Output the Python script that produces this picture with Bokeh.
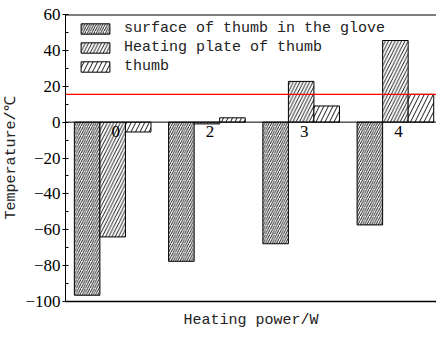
from bokeh.plotting import figure
from bokeh.models import Range1d, FixedTicker, Span, Legend, LegendItem
from bokeh.embed import file_html
from bokeh.resources import INLINE
from bokeh.core.properties import value

# ---- data ----
powers = ["0", "2", "3", "4"]
surface_glove = [-96.5, -77.6, -67.8, -57.3]
heating_plate = [-64.0, -1.0, 22.7, 45.5]
thumb = [-5.5, 2.4, 9.0, 15.5]
reference_line = 15.5
y_ticks = [-100, -80, -60, -40, -20, 0, 20, 40, 60]
y_minor = [-90, -70, -50, -30, -10, 10, 30, 50]
series_names = ["surface of thumb in the glove", "Heating plate of thumb", "thumb"]

idx = list(range(len(powers)))
bw = 0.271

p = figure(width=436, height=331, output_backend="svg", toolbar_location=None,
           x_range=Range1d(-0.5005, 3.436), y_range=Range1d(y_ticks[0], y_ticks[-1]),
           min_border_left=53, min_border_right=0, min_border_top=14, min_border_bottom=27)
p.outline_line_color = None
p.xgrid.visible = False
p.ygrid.visible = False

serif = "'Liberation Serif', 'Times New Roman', serif"
mono = "'Liberation Mono', monospace"

# bottom axis (line only + title)
xa = p.xaxis[0]
xa.ticker = FixedTicker(ticks=[])
xa.major_label_text_font_size = "0px"
xa.major_tick_line_color = None
xa.minor_tick_line_color = None
xa.axis_line_width = 1.5
xa.axis_label = "Heating power/W"
xa.axis_label_text_font = mono
xa.axis_label_text_font_size = "15px"
xa.axis_label_text_font_style = "normal"
xa.axis_label_text_color = "#222222"
xa.axis_label_standoff = 10

ya = p.yaxis[0]
ya.ticker = FixedTicker(ticks=y_ticks, minor_ticks=y_minor)
ya.major_tick_in = 3
ya.major_tick_out = 3
ya.minor_tick_in = 3
ya.minor_tick_out = 0
ya.major_label_standoff = 2
ya.major_label_text_font = serif
ya.major_label_text_font_size = "17px"
ya.major_label_text_color = "black"
ya.axis_label = "Temperature/℃"
ya.axis_label_text_font = mono
ya.axis_label_text_font_size = "15px"
ya.axis_label_text_font_style = "normal"
ya.axis_label_text_color = "#222222"
ya.axis_label_standoff = 2

# top frame line
p.add_layout(Span(location=y_ticks[-1], dimension="width", line_color="black", line_width=2))
# zero line
p.add_layout(Span(location=0, dimension="width", line_color="black", line_width=1))

common = dict(width=bw, bottom=0, fill_color="white", line_color="black", line_width=1,
              hatch_color="black")
r1 = p.vbar(x=[i - bw for i in idx], top=surface_glove, hatch_pattern="/", hatch_scale=4.5,
            hatch_weight=0.9, **common)
r2 = p.vbar(x=idx, top=heating_plate, hatch_pattern="/", hatch_scale=6.5, hatch_weight=0.9, **common)
r3 = p.vbar(x=[i + bw for i in idx], top=thumb, hatch_pattern="/", hatch_scale=9, hatch_weight=0.9, **common)

p.text(x=idx, y=[0] * len(idx), text=powers, text_align="center", text_baseline="top",
       x_offset=3, y_offset=4, text_font=value(serif), text_font_size="17px", text_color="black")

p.add_layout(Span(location=reference_line, dimension="width", line_color="red", line_width=1.3))

legend = Legend(items=[LegendItem(label=series_names[0], renderers=[r1]),
                       LegendItem(label=series_names[1], renderers=[r2]),
                       LegendItem(label=series_names[2], renderers=[r3])],
                location=(12, 226), glyph_width=36, glyph_height=13, label_height=13,
                spacing=2, padding=0, margin=0, label_standoff=11,
                border_line_color=None, background_fill_alpha=0,
                label_text_font=mono, label_text_font_size="15px", label_text_color="#222222")
p.add_layout(legend)

open("out.html", "w").write(file_html(p, INLINE))
